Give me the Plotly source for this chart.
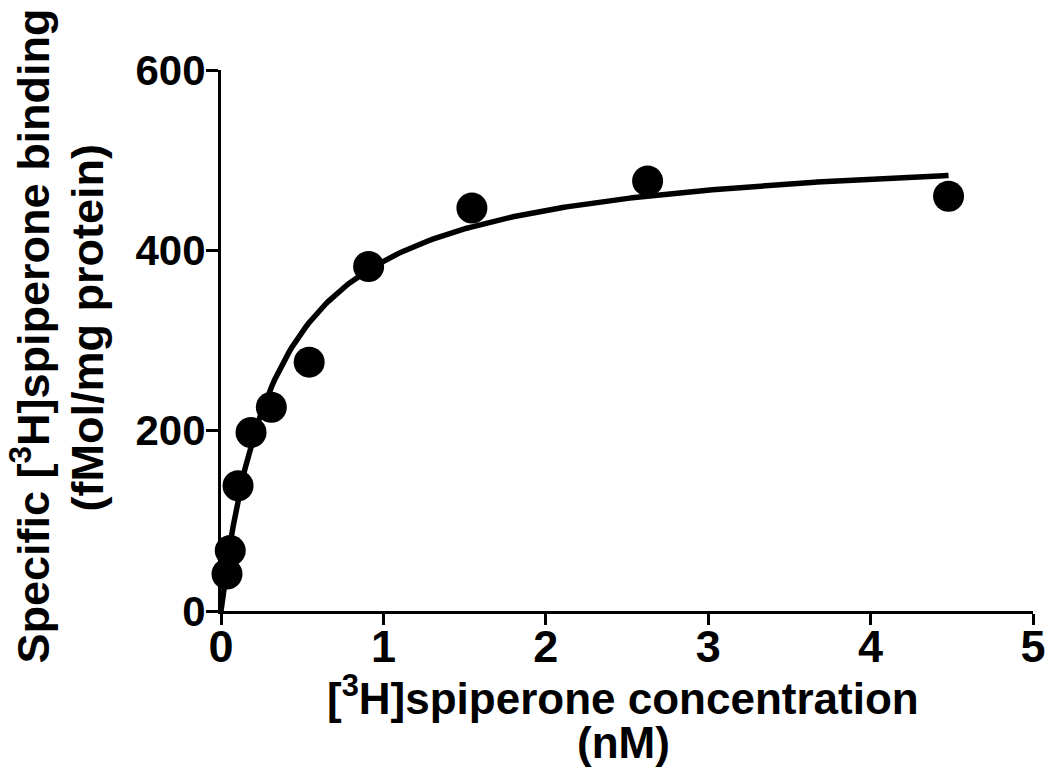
import numpy as np
import plotly.graph_objects as go

# Saturation binding data: [3H]spiperone concentration (nM) vs specific binding
conc_nM = [0.037, 0.057, 0.105, 0.185, 0.31, 0.543, 0.909, 1.545, 2.627, 4.48]
binding_fmol_mg = [41, 67, 139, 198, 226, 276, 382, 447, 477, 460]

# One-site specific binding fit parameters
bmax = 519.6   # fmol/mg protein
kd = 0.339     # nM

x_fit = np.linspace(0, max(conc_nM), 300)
y_fit = bmax * x_fit / (kd + x_fit)

x_ticks = [0, 1, 2, 3, 4, 5]
y_ticks = [0, 200, 400, 600]

x_title_lines = ["[<sup>3</sup>H]spiperone concentration", "(nM)"]
y_title_lines = ["Specific [<sup>3</sup>H]spiperone binding", "(fMol/mg protein)"]

FONT = "Liberation Sans, Arial, sans-serif"

fig = go.Figure()

fig.add_trace(go.Scatter(
    x=x_fit, y=y_fit, mode="lines",
    line=dict(color="black", width=5.5),
    cliponaxis=False, showlegend=False, hoverinfo="skip",
))

fig.add_trace(go.Scatter(
    x=conc_nM, y=binding_fmol_mg, mode="markers",
    marker=dict(color="black", size=31, line=dict(width=0)),
    cliponaxis=False, showlegend=False,
))

fig.update_layout(
    width=1049, height=770,
    margin=dict(l=221, r=16, t=70, b=159),
    paper_bgcolor="white", plot_bgcolor="white",
    font=dict(family=FONT, color="black"),
)

fig.update_xaxes(
    range=[0, 5], tickvals=x_ticks, ticktext=[str(v) for v in x_ticks],
    showgrid=False, zeroline=False,
    showline=True, linecolor="black", linewidth=3,
    ticks="outside", ticklen=11, tickwidth=3, tickcolor="black",
    tickfont=dict(family=FONT, size=45, weight="bold"),
    ticklabelstandoff=-17,
    automargin=False,
)

fig.update_yaxes(
    range=[0, 600], tickvals=y_ticks, ticktext=[str(v) for v in y_ticks],
    showgrid=False, zeroline=False,
    showline=True, linecolor="black", linewidth=3,
    ticks="outside", ticklen=12, tickwidth=3, tickcolor="black",
    tickfont=dict(family=FONT, size=42, weight="bold"),
    ticklabelstandoff=-8,
    automargin=False,
)

# Axis titles, one annotation per line for tight line spacing
title_font_x = dict(family=FONT, size=44, color="black", weight="bold")
title_font_y = dict(family=FONT, size=45, color="black", weight="bold")

fig.add_annotation(text=x_title_lines[0], xref="paper", yref="paper",
                   x=0.5, y=0, xanchor="center", yanchor="middle",
                   xshift=-4, yshift=-84, showarrow=False, font=title_font_x)
fig.add_annotation(text=x_title_lines[1], xref="paper", yref="paper",
                   x=0.5, y=0, xanchor="center", yanchor="middle",
                   xshift=-4, yshift=-131, showarrow=False, font=title_font_x)

fig.add_annotation(text=y_title_lines[0], xref="paper", yref="paper",
                   x=0, y=0.5, xanchor="center", yanchor="middle", textangle=-90,
                   xshift=-191, yshift=4, showarrow=False, font=title_font_y)
fig.add_annotation(text=y_title_lines[1], xref="paper", yref="paper",
                   x=0, y=0.5, xanchor="center", yanchor="middle", textangle=-90,
                   xshift=-134, yshift=12, showarrow=False, font=title_font_y)

fig.write_html("out.html")
